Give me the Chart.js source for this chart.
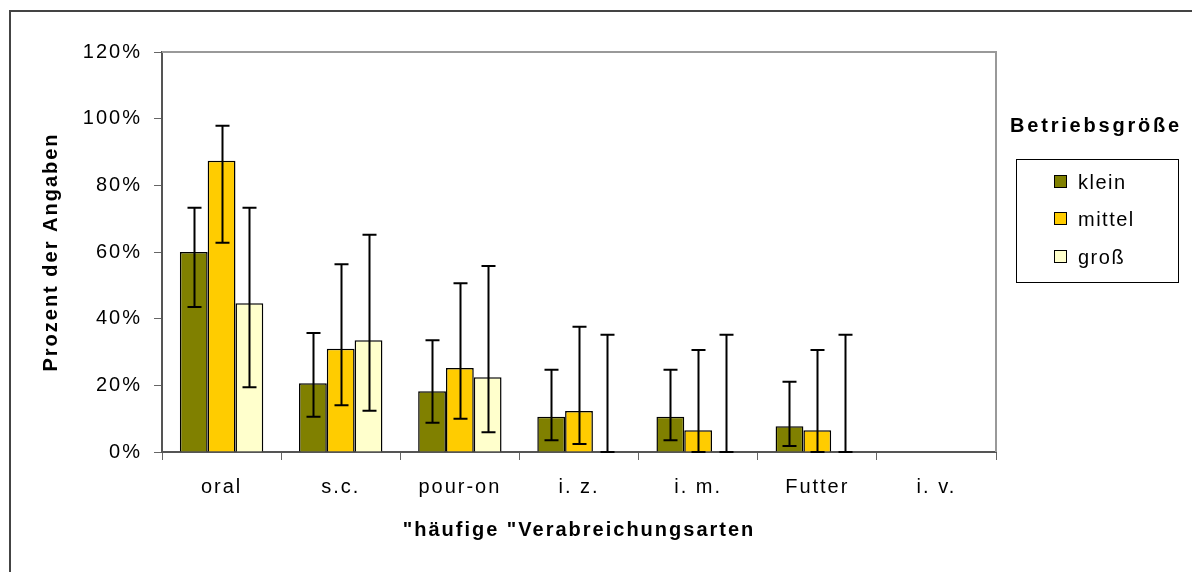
<!DOCTYPE html>
<html>
<head>
<meta charset="utf-8">
<script src="https://cdn.jsdelivr.net/npm/chart.js@4"></script>
<style>
  body { margin: 0; background: #fff; font-family: "Liberation Sans", Arial, sans-serif; }
  #wrap { position: relative; width: 1192px; height: 572px; overflow: hidden; }
  #frame { position: absolute; left: 9px; top: 10px; width: 1300px; height: 700px;
           border-top: 2px solid #444; border-left: 2px solid #444; pointer-events: none; }
  #legTitle { position: absolute; left: 1010px; top: 114px; font-weight: bold; font-size: 20px; color: #000; letter-spacing: 2.8px; white-space: nowrap; }
  #legBox { position: absolute; left: 1016px; top: 159px; width: 161px; height: 122px; border: 1px solid #000; }
  .item { position: absolute; left: 37px; height: 24px; line-height: 24px; font-size: 20px; color: #000; letter-spacing: 1.5px; }
  .item span.sw { position: absolute; left: 0; top: 5px; width: 11px; height: 11px; border: 1px solid #000; }
  .item span.tx { position: absolute; left: 24px; white-space: nowrap; }
</style>
</head>
<body>
<div id="wrap">
  <canvas id="myChart" width="1192" height="572"></canvas>
  <div id="frame"></div>
  <div id="legTitle">Betriebsgröße</div>
  <div id="legBox"></div>
</div>
<script>
// Daten
const kategorien = ['oral', 's.c.', 'pour-on', 'i. z.', 'i. m.', 'Futter', 'i. v.'];
const serien = ['klein', 'mittel', 'groß'];
const farben = ['#808000', '#FFCC00', '#FFFFCC'];

const klein  = [60, 20.6, 18.2, 10.6, 10.6, 7.7, 0];
const mittel = [87.4, 31, 25.2, 12.3, 6.5, 6.5, 0];
const gross  = [44.6, 33.5, 22.4, 0, 0, 0, 0];

// Fehlerbalken (unten / oben)
const kleinLo  = [43.5, 10.6, 8.8, 3.5, 3.5, 1.8, null];
const kleinHi  = [73.3, 35.7, 33.5, 24.7, 24.7, 21.1, null];
const mittelLo = [62.8, 14, 10, 2.4, 0, 0, null];
const mittelHi = [97.9, 56.3, 50.6, 37.6, 30.6, 30.6, null];
const grossLo  = [19.4, 12.4, 5.9, 0, 0, 0, null];
const grossHi  = [73.3, 65.2, 55.8, 35.2, 35.2, 35.2, null];

const yTicks = [0, 20, 40, 60, 80, 100, 120];

const werte = [klein, mittel, gross];
const fehlerLo = [kleinLo, mittelLo, grossLo];
const fehlerHi = [kleinHi, mittelHi, grossHi];

// Legende
const legBox = document.getElementById('legBox');
const legY = [10, 47, 85];
serien.forEach(function (name, i) {
    const d = document.createElement('div');
    d.className = 'item';
    d.style.top = legY[i] + 'px';
    d.innerHTML = '<span class="sw" style="background:' + farben[i] + '"></span><span class="tx">' + name + '</span>';
    legBox.appendChild(d);
});

// Text im Original ist breiter gezogen
const sperren = {
    id: 'sperren',
    beforeLayout(chart) { chart.ctx.letterSpacing = '2px'; },
    beforeDraw(chart) { chart.ctx.letterSpacing = '2px'; }
};

const errorBars = {
    id: 'errorBars',
    afterDatasetsDraw(chart) {
        const ctx = chart.ctx;
        const y = chart.scales.y;
        ctx.save();
        ctx.strokeStyle = '#000';
        ctx.lineWidth = 2;
        chart.data.datasets.forEach(function (ds, di) {
            const meta = chart.getDatasetMeta(di);
            meta.data.forEach(function (bar, i) {
                const lo = fehlerLo[di][i];
                const hi = fehlerHi[di][i];
                if (lo === null || hi === null) return;
                const x = Math.round(bar.x) + 0.5;
                const yl = y.getPixelForValue(lo);
                const yh = y.getPixelForValue(hi);
                ctx.beginPath();
                ctx.moveTo(x, yl); ctx.lineTo(x, yh);
                ctx.moveTo(x - 7, yh); ctx.lineTo(x + 7, yh);
                ctx.moveTo(x - 7, yl); ctx.lineTo(x + 7, yl);
                ctx.stroke();
            });
        });
        ctx.restore();
    }
};

const plotRahmen = {
    id: 'plotRahmen',
    beforeDatasetsDraw(chart) {
        const a = chart.chartArea;
        const ctx = chart.ctx;
        ctx.save();
        ctx.strokeStyle = '#999';
        ctx.lineWidth = 2;
        ctx.beginPath();
        ctx.moveTo(a.left, a.top);
        ctx.lineTo(a.right, a.top);
        ctx.lineTo(a.right, a.bottom);
        ctx.stroke();
        ctx.restore();
    }
};

document.addEventListener('DOMContentLoaded', function () {
    Chart.defaults.font.family = '"Liberation Sans", Arial, sans-serif';
    Chart.defaults.color = '#000';
    const ctx = document.getElementById('myChart').getContext('2d');
    new Chart(ctx, {
        type: 'bar',
        data: {
            labels: kategorien,
            datasets: serien.map(function (name, i) {
                return {
                    label: name,
                    data: werte[i],
                    backgroundColor: farben[i],
                    borderColor: '#000',
                    borderWidth: 1.5,
                    categoryPercentage: 0.7,
                    barPercentage: 1.0
                };
            })
        },
        options: {
            responsive: false,
            animation: false,
            layout: { padding: { left: 0, top: 52, right: 196, bottom: 0 } },
            plugins: {
                legend: { display: false },
                tooltip: { enabled: false }
            },
            scales: {
                x: {
                    grid: { drawOnChartArea: false, tickLength: 8, color: '#666', offset: true },
                    border: { color: '#555', width: 2 },
                    ticks: { font: { size: 20 }, padding: 15, maxRotation: 0 },
                    title: {
                        display: true,
                        text: '"häufige "Verabreichungsarten',
                        font: { size: 20, weight: 'bold' },
                        padding: { top: 0, bottom: 30 }
                    },
                    afterFit: function (scale) { scale.height = 120; }
                },
                y: {
                    min: 0,
                    max: 120,
                    afterBuildTicks: function (scale) {
                        scale.ticks = yTicks.map(function (v) { return { value: v }; });
                    },
                    grid: { drawOnChartArea: false, tickLength: 8, color: '#666' },
                    border: { color: '#555', width: 2 },
                    ticks: {
                        font: { size: 20 },
                        padding: 12,
                        callback: function (v) { return v + '%'; }
                    },
                    title: {
                        display: true,
                        text: 'Prozent der Angaben',
                        font: { size: 20, weight: 'bold' },
                        padding: { top: 39, bottom: 0 }
                    },
                    afterFit: function (scale) { scale.width = 162; }
                }
            }
        },
        plugins: [sperren, errorBars, plotRahmen]
    });
});
</script>
</body>
</html>
